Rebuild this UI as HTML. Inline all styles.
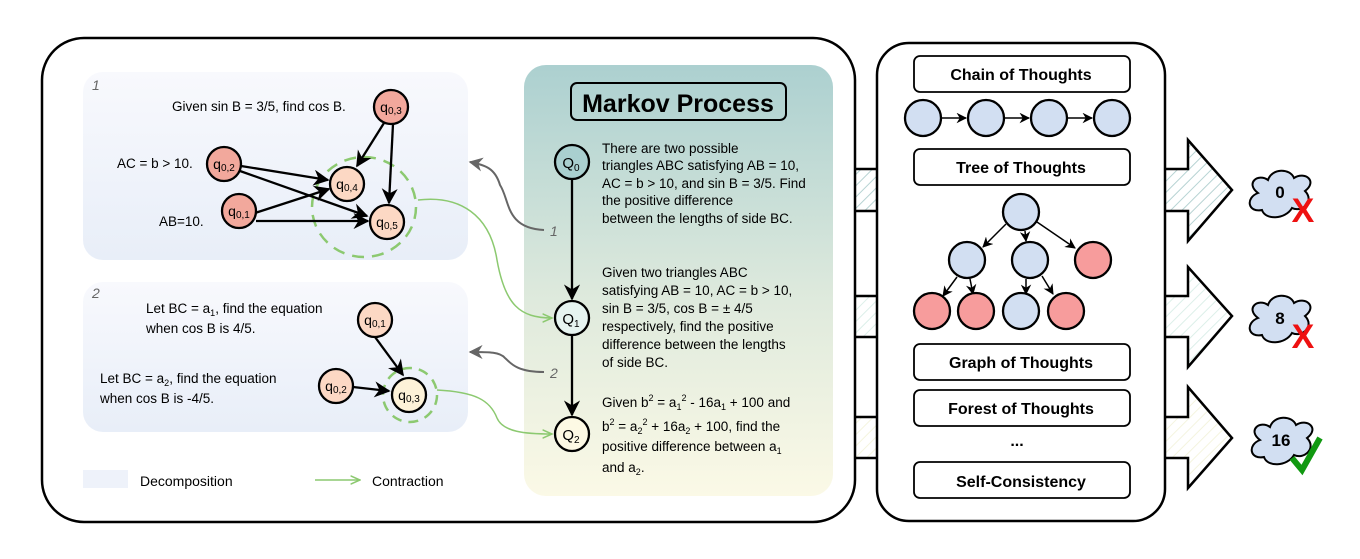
<!DOCTYPE html>
<html><head><style>
body{margin:0;background:#fff}
svg text{font-family:"Liberation Sans",sans-serif;}
</style></head><body>
<svg width="1360" height="554" viewBox="0 0 1360 554" xmlns="http://www.w3.org/2000/svg">
<defs>
<linearGradient id="bl" x1="0" y1="0" x2="0" y2="1"><stop offset="0" stop-color="#f8f9fd"/><stop offset="1" stop-color="#e8eef8"/></linearGradient>
<linearGradient id="mk" x1="0" y1="0" x2="0" y2="1"><stop offset="0" stop-color="#acd0d0"/><stop offset="0.55" stop-color="#dfeadd"/><stop offset="1" stop-color="#fbf9e6"/></linearGradient>
<pattern id="h1" width="8" height="8" patternUnits="userSpaceOnUse" patternTransform="rotate(45)"><rect width="8" height="8" fill="#fff"/><line x1="0" y1="0" x2="0" y2="8" stroke="#b7d3d3" stroke-width="2"/></pattern>
<pattern id="h2" width="8" height="8" patternUnits="userSpaceOnUse" patternTransform="rotate(45)"><rect width="8" height="8" fill="#fff"/><line x1="0" y1="0" x2="0" y2="8" stroke="#dcefe9" stroke-width="2"/></pattern>
<pattern id="h3" width="8" height="8" patternUnits="userSpaceOnUse" patternTransform="rotate(45)"><rect width="8" height="8" fill="#fff"/><line x1="0" y1="0" x2="0" y2="8" stroke="#f4f4df" stroke-width="2"/></pattern>
<marker id="ar" viewBox="0 0 10 10" refX="9" refY="5" markerWidth="7" markerHeight="7" orient="auto"><path d="M0,0 L10,5 L0,10 L3,5z" fill="#000"/></marker>
<marker id="ag" viewBox="0 0 10 10" refX="9" refY="5" markerWidth="7" markerHeight="7" orient="auto"><path d="M0,1 L9,5 L0,9" fill="none" stroke="#8cc970" stroke-width="1.5"/></marker>
<marker id="ay" viewBox="0 0 10 10" refX="9" refY="5" markerWidth="7" markerHeight="7" orient="auto"><path d="M0,0 L10,5 L0,10 L3,5z" fill="#666"/></marker>
</defs>

<g stroke="#000" stroke-width="2.5">
<path d="M840,169 H1188 V140 L1232,190 L1188,241 V211 H840z" fill="url(#h1)"/>
<path d="M840,296 H1188 V267 L1232,316 L1188,367 V337 H840z" fill="url(#h2)"/>
<path d="M840,417 H1188 V387 L1232,438 L1188,488 V458 H840z" fill="url(#h3)"/>
</g>

<rect x="42" y="38" width="813" height="484" rx="42" fill="#fff" stroke="#000" stroke-width="2.5"/>
<rect x="877" y="43" width="288" height="478" rx="32" fill="#fff" stroke="#000" stroke-width="2.5"/>

<rect x="83" y="72" width="385" height="188" rx="20" fill="url(#bl)"/>
<rect x="83" y="282" width="385" height="150" rx="20" fill="url(#bl)"/>
<text x="92" y="90" font-size="14" font-style="italic" fill="#666">1</text>
<text x="92" y="298" font-size="14" font-style="italic" fill="#666">2</text>

<g font-size="13.5" fill="#000">
<text x="172" y="111">Given sin B = 3/5, find cos B.</text>
<text x="117" y="168">AC = b &gt; 10.</text>
<text x="159" y="226">AB=10.</text>
<text x="146" y="313">Let BC = a<tspan font-size="9" dy="3">1</tspan><tspan dy="-3">, find the equation</tspan></text>
<text x="146" y="333">when cos B is 4/5.</text>
<text x="100" y="383">Let BC = a<tspan font-size="9" dy="3">2</tspan><tspan dy="-3">, find the equation</tspan></text>
<text x="100" y="403">when cos B is -4/5.</text>
</g>

<ellipse cx="364" cy="207" rx="52" ry="50" fill="none" stroke="#8cc970" stroke-width="2.5" stroke-dasharray="12,8"/>
<circle cx="410" cy="395" r="27" fill="none" stroke="#8cc970" stroke-width="2.5" stroke-dasharray="10,7"/>

<g stroke="#000" stroke-width="2.3" marker-end="url(#ar)">
<line x1="384" y1="123" x2="357" y2="166"/>
<line x1="393" y1="124" x2="389" y2="203"/>
<line x1="241" y1="166" x2="328" y2="180"/>
<line x1="240" y1="171" x2="367" y2="216"/>
<line x1="255" y1="213" x2="329" y2="189"/>
<line x1="256" y1="221" x2="368" y2="221"/>
<line x1="375" y1="337" x2="403" y2="375"/>
<line x1="353" y1="387" x2="389" y2="391"/>
</g>

<g stroke="#000" stroke-width="2.3" font-size="14">
<circle cx="391" cy="107" r="17" fill="#f2a89c"/>
<circle cx="224" cy="164" r="17" fill="#f2a89c"/>
<circle cx="239" cy="211" r="17" fill="#f2a89c"/>
<circle cx="347" cy="184" r="17" fill="#fcd8c4"/>
<circle cx="387" cy="222" r="17" fill="#fcd8c4"/>
<circle cx="375" cy="320" r="17" fill="#fcd8c4"/>
<circle cx="336" cy="386" r="17" fill="#fcd8c4"/>
<circle cx="409" cy="395" r="17" fill="#fdf2d8"/>
</g>
<g font-size="14" text-anchor="middle" fill="#000">
<text x="391" y="112">q<tspan font-size="10" dy="2">0,3</tspan></text>
<text x="224" y="169">q<tspan font-size="10" dy="2">0,2</tspan></text>
<text x="239" y="216">q<tspan font-size="10" dy="2">0,1</tspan></text>
<text x="347" y="189">q<tspan font-size="10" dy="2">0,4</tspan></text>
<text x="387" y="227">q<tspan font-size="10" dy="2">0,5</tspan></text>
<text x="375" y="325">q<tspan font-size="10" dy="2">0,1</tspan></text>
<text x="336" y="391">q<tspan font-size="10" dy="2">0,2</tspan></text>
<text x="409" y="400">q<tspan font-size="10" dy="2">0,3</tspan></text>
</g>

<rect x="83" y="470" width="45" height="18" fill="#eef2fa"/>
<text x="140" y="486" font-size="14">Decomposition</text>
<line x1="315" y1="480" x2="360" y2="480" stroke="#8cc970" stroke-width="1.5" marker-end="url(#ag)"/>
<text x="372" y="486" font-size="14">Contraction</text>

<rect x="524" y="65" width="309" height="431" rx="22" fill="url(#mk)"/>
<rect x="571" y="83" width="215" height="37" rx="6" fill="none" stroke="#000" stroke-width="2"/>
<text x="678" y="112" font-size="25" font-weight="bold" text-anchor="middle">Markov Process</text>

<path d="M544,230 C505,228 510,200 500,185 C495,168 485,165 470,162" fill="none" stroke="#666" stroke-width="2" marker-end="url(#ay)"/>
<path d="M544,372 C515,372 510,362 505,358 C500,352 490,352 470,352" fill="none" stroke="#666" stroke-width="2" marker-end="url(#ay)"/>
<text x="550" y="236" font-size="14" font-style="italic" fill="#666">1</text>
<text x="550" y="378" font-size="14" font-style="italic" fill="#666">2</text>
<path d="M418,200 C460,195 490,215 497,260 C505,305 520,318 552,318" fill="none" stroke="#8cc970" stroke-width="1.5" marker-end="url(#ag)"/>
<path d="M437,390 C475,392 490,400 497,418 C503,432 525,434 552,434" fill="none" stroke="#8cc970" stroke-width="1.5" marker-end="url(#ag)"/>

<g stroke="#000" stroke-width="2.3" marker-end="url(#ar)">
<line x1="572" y1="180" x2="572" y2="299"/>
<line x1="572" y1="336" x2="572" y2="415"/>
</g>
<g stroke="#000" stroke-width="2.3">
<circle cx="572" cy="162" r="17" fill="#a9cfcf"/>
<circle cx="572" cy="318" r="17" fill="#e6f4f0"/>
<circle cx="572" cy="434" r="17" fill="#fdf9e4"/>
</g>
<g font-size="15" text-anchor="middle">
<text x="571" y="168">Q<tspan font-size="10" dy="3">0</tspan></text>
<text x="571" y="324">Q<tspan font-size="10" dy="3">1</tspan></text>
<text x="571" y="440">Q<tspan font-size="10" dy="3">2</tspan></text>
</g>
<g font-size="13.5" fill="#000">
<text x="602" y="153">There are two possible</text>
<text x="602" y="170">triangles ABC satisfying AB = 10,</text>
<text x="602" y="188">AC = b &gt; 10, and sin B = 3/5. Find</text>
<text x="602" y="205">the positive difference</text>
<text x="602" y="223">between the lengths of side BC.</text>
<text x="602" y="277">Given two triangles ABC</text>
<text x="602" y="295">satisfying AB = 10, AC = b &gt; 10,</text>
<text x="602" y="313">sin B = 3/5, cos B = ± 4/5</text>
<text x="602" y="331">respectively, find the positive</text>
<text x="602" y="349">difference between the lengths</text>
<text x="602" y="367">of side BC.</text>
<text x="602" y="407">Given b<tspan font-size="9" dy="-6">2</tspan><tspan dy="6"> = a</tspan><tspan font-size="9" dy="3">1</tspan><tspan font-size="9" dy="-9">2</tspan><tspan dy="6"> - 16a</tspan><tspan font-size="9" dy="3">1</tspan><tspan dy="-3"> + 100 and</tspan></text>
<text x="602" y="431">b<tspan font-size="9" dy="-6">2</tspan><tspan dy="6"> = a</tspan><tspan font-size="9" dy="3">2</tspan><tspan font-size="9" dy="-9">2</tspan><tspan dy="6"> + 16a</tspan><tspan font-size="9" dy="3">2</tspan><tspan dy="-3"> + 100, find the</tspan></text>
<text x="602" y="451">positive difference between a<tspan font-size="9" dy="3">1</tspan></text>
<text x="602" y="472">and a<tspan font-size="9" dy="3">2</tspan><tspan dy="-3">.</tspan></text>
</g>

<g fill="#fff" stroke="#000" stroke-width="1.8">
<rect x="914" y="56" width="216" height="36" rx="6"/>
<rect x="914" y="149" width="216" height="36" rx="6"/>
<rect x="914" y="344" width="216" height="36" rx="6"/>
<rect x="914" y="390" width="216" height="36" rx="6"/>
<rect x="914" y="462" width="216" height="36" rx="6"/>
</g>
<g font-size="16" font-weight="bold" text-anchor="middle">
<text x="1021" y="80">Chain of Thoughts</text>
<text x="1021" y="173">Tree of Thoughts</text>
<text x="1021" y="368">Graph of Thoughts</text>
<text x="1021" y="414">Forest of Thoughts</text>
<text x="1021" y="487">Self-Consistency</text>
<text x="1017" y="446">...</text>
</g>
<g stroke="#000" stroke-width="1.5" marker-end="url(#ar)">
<line x1="942" y1="118" x2="966" y2="118"/>
<line x1="1005" y1="118" x2="1029" y2="118"/>
<line x1="1068" y1="118" x2="1092" y2="118"/>
<line x1="1006" y1="224" x2="983" y2="247"/>
<line x1="1025" y1="231" x2="1026" y2="241"/>
<line x1="1037" y1="222" x2="1075" y2="248"/>
<line x1="957" y1="277" x2="943" y2="296"/>
<line x1="970" y1="279" x2="973" y2="294"/>
<line x1="1026" y1="279" x2="1026" y2="294"/>
<line x1="1042" y1="276" x2="1053" y2="294"/>
</g>
<g stroke="#000" stroke-width="2.3">
<circle cx="923" cy="118" r="18" fill="#d2dff2"/>
<circle cx="986" cy="118" r="18" fill="#d2dff2"/>
<circle cx="1049" cy="118" r="18" fill="#d2dff2"/>
<circle cx="1112" cy="118" r="18" fill="#d2dff2"/>
<circle cx="1021" cy="212" r="18" fill="#d2dff2"/>
<circle cx="967" cy="260" r="18" fill="#d2dff2"/>
<circle cx="1030" cy="260" r="18" fill="#d2dff2"/>
<circle cx="1093" cy="260" r="18" fill="#f79c9c"/>
<circle cx="932" cy="311" r="18" fill="#f79c9c"/>
<circle cx="976" cy="311" r="18" fill="#f79c9c"/>
<circle cx="1021" cy="311" r="18" fill="#d2dff2"/>
<circle cx="1066" cy="311" r="18" fill="#f79c9c"/>
</g>

<g fill="#d2dff2" stroke="#000" stroke-width="2">
<path transform="translate(0,13)" d="M1258,180 C1245,170 1258,160 1268,167 C1272,155 1290,155 1294,165 C1305,158 1318,168 1305,178 C1315,188 1302,200 1292,195 C1285,207 1265,207 1262,197 C1248,200 1245,185 1258,180z"/>
<path transform="translate(0,12)" d="M1258,306 C1245,296 1258,286 1268,293 C1272,281 1290,281 1294,291 C1305,284 1318,294 1305,304 C1315,314 1302,326 1292,321 C1285,333 1265,333 1262,323 C1248,326 1245,311 1258,306z"/>
<path transform="translate(0,12)" d="M1260,428 C1247,418 1260,408 1270,415 C1274,403 1292,403 1296,413 C1307,406 1320,416 1307,426 C1317,436 1304,448 1294,443 C1287,455 1267,455 1264,445 C1250,448 1247,433 1260,428z"/>
</g>
<g font-size="17" font-weight="bold" text-anchor="middle">
<text x="1280" y="198">0</text>
<text x="1280" y="324">8</text>
<text x="1281" y="446">16</text>
</g>
<text x="1303" y="222" font-size="34" font-weight="bold" fill="#ee1111" text-anchor="middle">X</text>
<text x="1303" y="348" font-size="34" font-weight="bold" fill="#ee1111" text-anchor="middle">X</text>
<path d="M1292,458 L1302,470 L1320,438" fill="none" stroke="#119911" stroke-width="6"/>
</svg>
</body></html>
